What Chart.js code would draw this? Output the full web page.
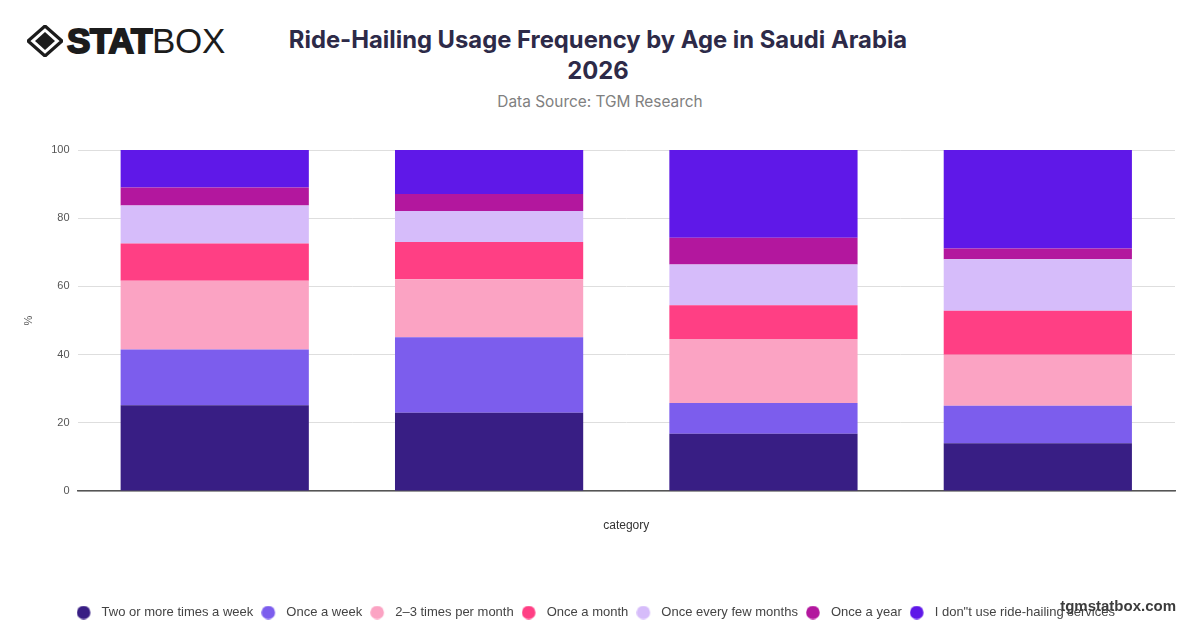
<!DOCTYPE html>
<html>
<head>
<meta charset="utf-8">
<script src="https://cdn.jsdelivr.net/npm/chart.js@4.4.1/dist/chart.umd.min.js"></script>
<style>
  html, body { margin:0; padding:0; background:#fff; }
  #page { position:relative; width:1200px; height:628px; overflow:hidden; font-family:'Liberation Sans', Arial, sans-serif; }
  #logo { position:absolute; left:27px; top:23px; display:flex; align-items:center; }
  #logo .word { font-family:'Liberation Sans', Arial, sans-serif; font-size:35px; color:#1c1c1c; letter-spacing:-0.3px; line-height:1; margin-left:4px; }
  #logo .stat { font-weight:900; -webkit-text-stroke:2px #1c1c1c; }
  #logo .box { font-weight:300; }
  #title { position:absolute; left:0; top:24px; width:1196px; text-align:center; font-family:Inter, 'Noto Sans', sans-serif; font-weight:700; font-size:23.8px; line-height:31px; color:#2d2a48; }
  #source { position:absolute; left:0; top:92px; width:1200px; text-align:center; font-family:Inter, 'Noto Sans', sans-serif; font-size:15.4px; color:#808080; }
  #wrap { position:absolute; left:0; top:135px; width:1200px; height:498px; }
  #mark { position:absolute; right:24px; top:597px; font-family:'Liberation Sans', Arial, sans-serif; font-weight:700; font-size:15px; color:#3c3c3c; }
</style>
</head>
<body>
<div id="page">
  <div id="logo">
    <svg width="36" height="32" viewBox="0 0 36 32">
      <path d="M18 1 L35 16 L18 31 L1 16 Z" fill="none" stroke="#1c1c1c" stroke-width="3.2"/>
      <path d="M18 7 L28 16 L18 25 L8 16 Z" fill="#1c1c1c"/>
    </svg>
    <span class="word"><span class="stat">STAT</span><span class="box">BOX</span></span>
  </div>
  <div id="title">Ride-Hailing Usage Frequency by Age in Saudi Arabia<br>2026</div>
  <div id="source">Data Source: TGM Research</div>
  <div id="wrap"><canvas id="chart"></canvas></div>
  <div id="mark">tgmstatbox.com</div>
</div>
<script>
// age groups are not labelled on the original chart
const categories = ['', '', '', ''];

const twoOrMore   = [25.2, 23.0, 16.8, 14.0];
const onceWeek    = [16.3, 22.1,  9.0, 11.0];
const twoThree    = [20.2, 17.0, 18.8, 15.0];
const onceMonth   = [10.9, 10.9,  9.9, 12.9];
const fewMonths   = [11.1,  9.1, 11.9, 15.1];
const onceYear    = [ 5.3,  5.0,  7.9,  3.1];
const dontUse     = [11.0, 12.9, 25.7, 28.9];

const yTicks = [0, 20, 40, 60, 80, 100];

const series = [
  { label: 'Two or more times a week', data: twoOrMore, color: '#381e84' },
  { label: 'Once a week', data: onceWeek, color: '#7c5ded' },
  { label: '2–3 times per month', data: twoThree, color: '#fba3c3' },
  { label: 'Once a month', data: onceMonth, color: '#ff3f84' },
  { label: 'Once every few months', data: fewMonths, color: '#d6bcfa' },
  { label: 'Once a year', data: onceYear, color: '#b3179e' },
  { label: 'I don"t use ride-hailing services', data: dontUse, color: '#5f18e8' }
];

// legend dot: small canvas with the circle sitting left of centre,
// so there is a wider gap before the text like the original
function dot(color){
  const c = document.createElement('canvas');
  c.width = 24; c.height = 14;
  const g = c.getContext('2d');
  g.fillStyle = color;
  g.beginPath();
  g.arc(7, 7, 6.8, 0, Math.PI * 2);
  g.fill();
  return c;
}
const dots = series.map(s => dot(s.color));

const font = "'Liberation Sans', Arial, sans-serif";

new Chart(document.getElementById('chart'), {
  type: 'bar',
  data: {
    labels: categories,
    datasets: series.map(s => ({
      label: s.label,
      data: s.data,
      backgroundColor: s.color,
      borderWidth: 0,
      categoryPercentage: 0.686,
      barPercentage: 1
    }))
  },
  options: {
    responsive: true,
    maintainAspectRatio: false,
    animation: false,
    layout: { padding: { left: 22, right: 25, top: 15, bottom: 4 } },
    plugins: {
      legend: {
        position: 'bottom',
        labels: {
          usePointStyle: true,
          boxWidth: 13,
          boxHeight: 13,
          padding: 13.5,
          color: '#444',
          font: { family: font, size: 13 },
          generateLabels: chart => {
            const items = Chart.defaults.plugins.legend.labels.generateLabels(chart);
            items.forEach((it, i) => { it.pointStyle = dots[i]; });
            return items;
          }
        }
      },
      tooltip: { enabled: false }
    },
    scales: {
      x: {
        stacked: true,
        grid: { display: false },
        border: { color: '#555', width: 1.5 },
        ticks: { display: false },
        title: {
          display: true,
          text: 'category',
          color: '#333',
          padding: { top: 19, bottom: 60 },
          font: { family: font, size: 12 }
        }
      },
      y: {
        stacked: true,
        min: 0,
        max: 100,
        afterBuildTicks: axis => { axis.ticks = yTicks.map(v => ({ value: v })); },
        grid: { color: '#dedede', drawTicks: false },
        border: { display: false },
        ticks: {
          color: '#555',
          padding: 8,
          font: { family: font, size: 11 }
        },
        title: {
          display: true,
          text: '%',
          color: '#555',
          padding: { top: 0, bottom: 8 },
          font: { family: font, size: 11 }
        }
      }
    }
  }
});
</script>
</body>
</html>
